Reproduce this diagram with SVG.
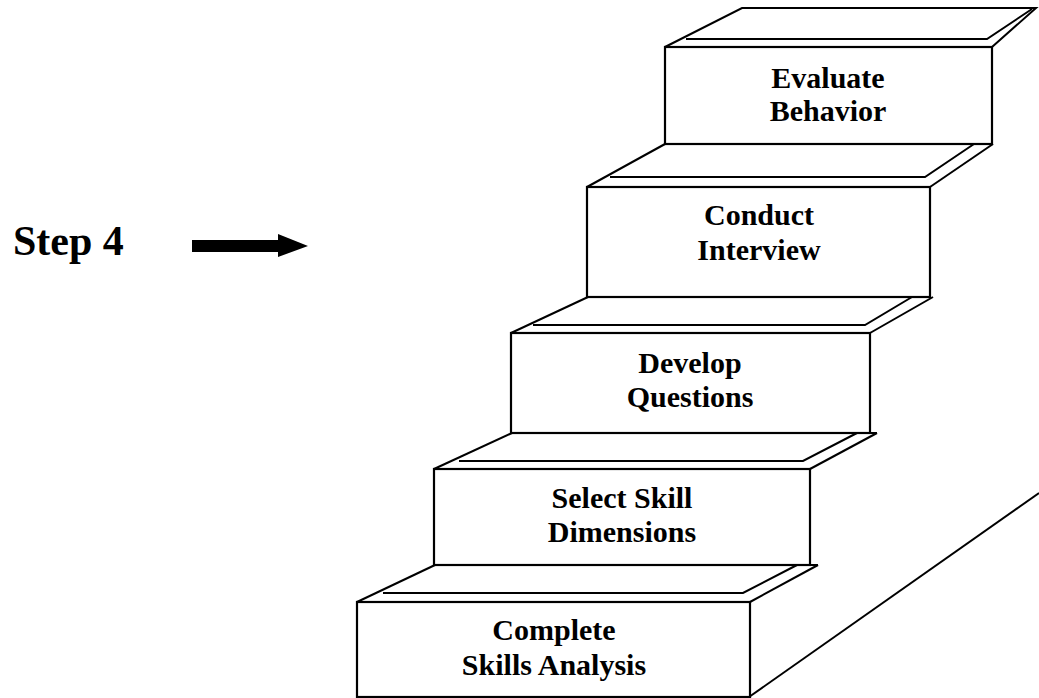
<svg xmlns="http://www.w3.org/2000/svg" width="1039" height="698" viewBox="0 0 1039 698">
<style>
.s{fill:none;stroke:#000;stroke-width:2;stroke-linejoin:miter;stroke-linecap:butt}
.f{fill:#fff;stroke:#000;stroke-width:2.2}
.t{font-family:"Liberation Serif","Times New Roman",serif;font-weight:bold;font-size:30px;text-anchor:middle;fill:#000}
</style>
<rect width="1039" height="698" fill="#fff"/>
<g id="stringer">
<line class="s" x1="749" y1="697" x2="1039" y2="493"/>
</g>
<g id="step5">
<path class="s" d="M665,47 L742,8 L1036,8 L992,47"/>
<polyline class="s" points="686,39 987,39 1032,9"/>
<rect class="f" x="665" y="47" width="327" height="97"/>
<text class="t" x="828" y="88">Evaluate</text>
<text class="t" x="828" y="121">Behavior</text>
</g>
<g id="step4">
<line class="s" x1="587" y1="187" x2="665" y2="144"/>
<line class="s" x1="930" y1="187" x2="993" y2="144"/>
<polyline class="s" points="610,177 925,177 974,144"/>
<rect class="f" x="587" y="187" width="343" height="110"/>
<text class="t" x="759" y="225">Conduct</text>
<text class="t" x="759" y="260">Interview</text>
</g>
<g id="step3">
<line class="s" x1="511" y1="333" x2="588" y2="297"/>
<line class="s" x1="870" y1="333" x2="933" y2="297"/>
<polyline class="s" points="533,325 865,325 912,297"/>
<rect class="f" x="511" y="333" width="359" height="100"/>
<line class="s" x1="870" y1="433" x2="877" y2="433"/>
<text class="t" x="690" y="373">Develop</text>
<text class="t" x="690" y="407">Questions</text>
</g>
<g id="step2">
<line class="s" x1="434" y1="469" x2="512" y2="433"/>
<line class="s" x1="810" y1="469" x2="877" y2="433"/>
<polyline class="s" points="459,461 803,461 857,433"/>
<rect class="f" x="434" y="469" width="376" height="96"/>
<line class="s" x1="810" y1="565" x2="818" y2="565"/>
<text class="t" x="622" y="508">Select Skill</text>
<text class="t" x="622" y="542">Dimensions</text>
</g>
<g id="step1">
<line class="s" x1="357" y1="602" x2="435" y2="565"/>
<line class="s" x1="750" y1="602" x2="818" y2="565"/>
<polyline class="s" points="383,593 743,593 797,565"/>
<rect class="f" x="357" y="602" width="393" height="95"/>
<text class="t" x="554" y="640">Complete</text>
<text class="t" x="554" y="675">Skills Analysis</text>
</g>
<g id="label">
<text x="13" y="255" style="font-family:'Liberation Serif','Times New Roman',serif;font-weight:bold;font-size:42px;fill:#000">Step 4</text>
</g>
<g id="connectors">
<path d="M192,240 L278,240 L278,234 L308,246 L278,257 L278,252 L192,252 Z" fill="#000"/>
</g>
</svg>
